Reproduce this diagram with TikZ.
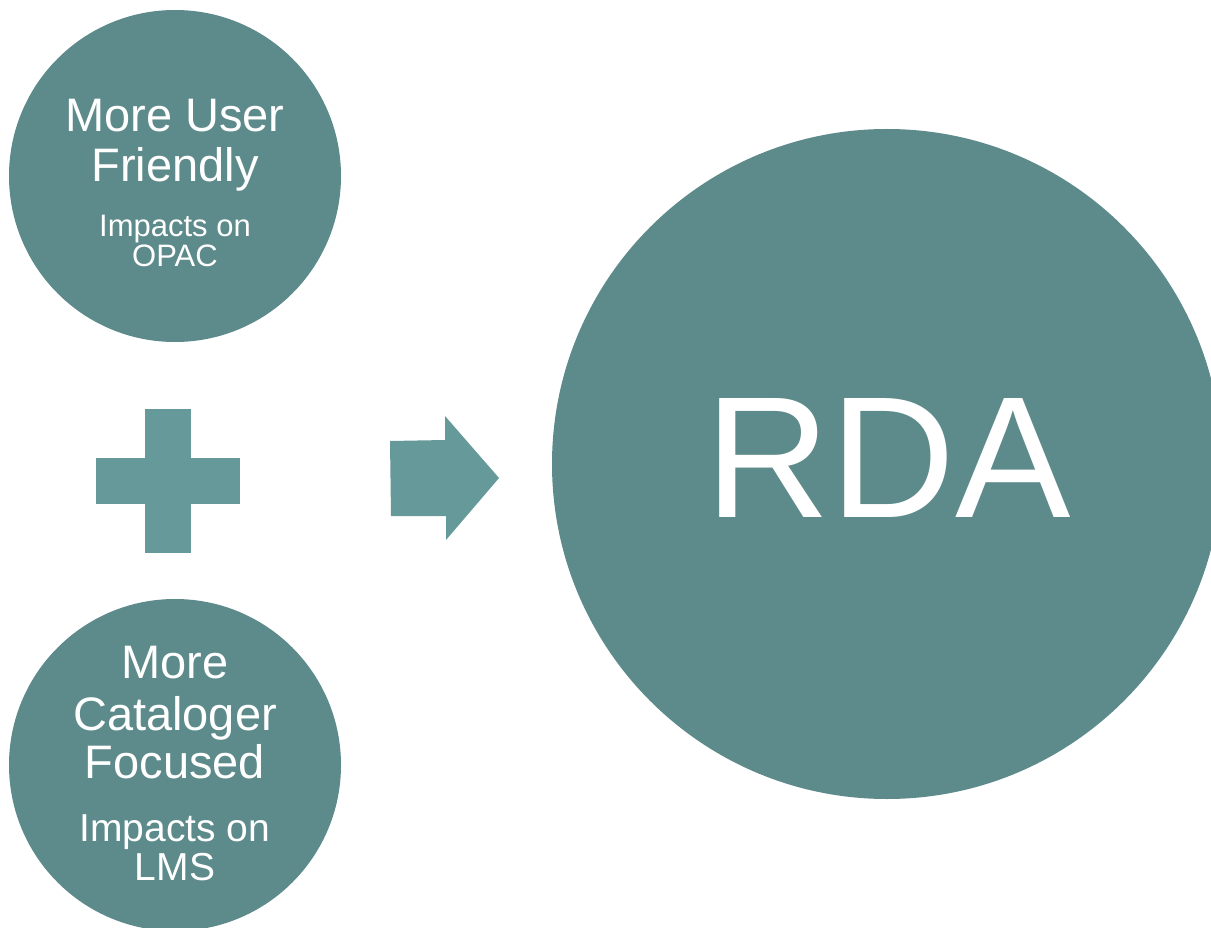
\documentclass[tikz,border=0pt]{standalone}
\usepackage{fontspec}
\setmainfont{Liberation Sans}
\definecolor{bubblecol}{HTML}{5D8A8A}
\definecolor{signcol}{HTML}{669999}

\begin{document}
\begin{tikzpicture}[x=1pt,y=-1pt]
 	\tikzstyle{every node}+=[inner sep=0pt]
 	\tikzstyle{bubble}=[circle, fill=bubblecol, draw=none]
 	\tikzstyle{headline}=[text=white, anchor=base, font=\fontsize{47}{50}\selectfont]
 	\useasboundingbox (0,0) rectangle (1211,928);
 	% circles
 	\node [bubble, minimum size=332] (user) at (175,176) {};
 	\node [bubble, minimum size=332] (cataloger) at (175,765) {};
 	\node [bubble, minimum size=670] (rda) at (887,464) {};
 	% top circle text
 	\node [headline] (user1) at (175,132) {More User};
 	\node [headline] (user2) at (175,182) {Friendly};
 	\node [headline, font=\fontsize{31}{31}\selectfont] (opac1) at (175,237) {Impacts on};
 	\node [headline, font=\fontsize{31}{31}\selectfont] (opac2) at (175,267) {OPAC};
 	% bottom circle text
 	\node [headline] (cat1) at (175,678) {More};
 	\node [headline] (cat2) at (175,730) {Cataloger};
 	\node [headline] (cat3) at (175,778) {Focused};
 	\node [headline, font=\fontsize{39}{39}\selectfont] (lms1) at (175,841) {Impacts on};
 	\node [headline, font=\fontsize{39}{39}\selectfont] (lms2) at (175,880) {LMS};
 	% big circle text
 	\node [headline, font=\fontsize{173}{173}\selectfont] (rdatext) at (888,517) {RDA};
 	% plus sign
 	\fill [signcol] (145,409) rectangle (191,553);
 	\fill [signcol] (96,458) rectangle (240,504);
 	% arrow
 	\fill [signcol] (390,441) -- (445,440) -- (445,416) -- (499,478) -- (446,540) -- (446,516) -- (391,516) -- cycle;
\end{tikzpicture}
\end{document}
